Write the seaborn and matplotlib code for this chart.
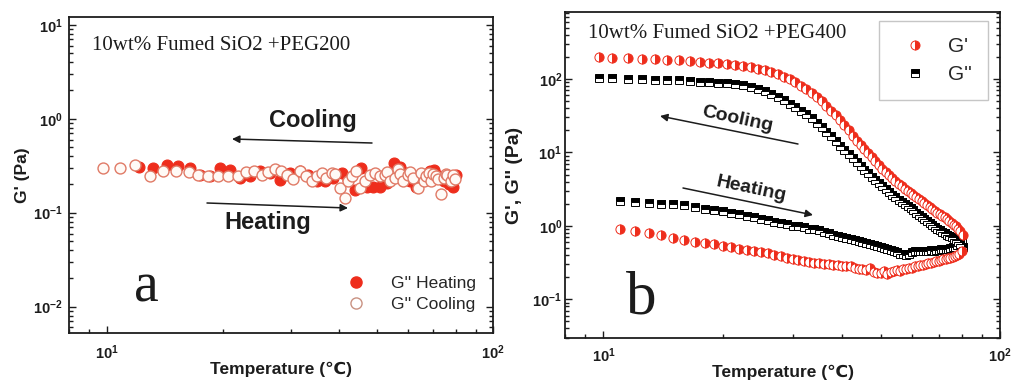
import numpy as np
import pandas as pd
import matplotlib
matplotlib.use("Agg")
import matplotlib.pyplot as plt
import seaborn as sns
from matplotlib.lines import Line2D
from matplotlib.ticker import LogLocator, FuncFormatter, NullFormatter

# ---------------- data ----------------
# (a) 10wt% fumed SiO2 + PEG200, G'' during heating / cooling
a_T_heat = [12.1, 13.2, 14.3, 15.3, 16.4, 17.4, 18.5, 19.6, 20.8, 22.1, 23.5, 24.9,
            26.4, 28.0, 29.8, 31.6, 33.2, 34.9, 36.7, 38.6, 40.5, 42.2, 43.9, 45.6,
            47.0, 48.9, 50.9, 53.0, 55.2, 57.5, 59.3, 61.0, 63.2, 65.8, 68.4, 70.4,
            72.5, 74.7, 76.8, 78.6, 79.3, 80.0]
a_G_heat = [0.31, 0.30, 0.32, 0.315, 0.30, 0.254, 0.244, 0.30, 0.287, 0.234, 0.244, 0.275,
            0.265, 0.224, 0.265, 0.275, 0.254, 0.215, 0.215, 0.234, 0.265, 0.224, 0.176, 0.30,
            0.19, 0.19, 0.19, 0.207, 0.337, 0.31, 0.265, 0.215, 0.19, 0.254, 0.275, 0.287,
            0.244, 0.215, 0.20, 0.19, 0.244, 0.254]
a_T_cool = [9.8, 10.8, 11.8, 12.95, 14.0, 15.1, 16.3, 17.2, 18.3, 19.4, 20.6, 21.8,
            22.9, 24.0, 25.2, 26.2, 27.3, 28.3, 29.3, 30.3, 31.6, 32.8, 33.9, 34.9,
            36.0, 37.0, 38.2, 39.0, 40.1, 41.4, 42.2, 43.1, 44.2, 45.2, 46.5, 47.9,
            49.4, 50.9, 52.4, 53.2, 54.0, 55.6, 56.7, 57.5, 58.4, 60.1, 61.0, 62.0,
            63.8, 65.1, 66.0, 67.0, 68.0, 69.0, 70.0, 71.1, 72.0, 73.2, 74.7, 75.5,
            76.1, 77.7, 78.8, 79.5]
a_G_cool = [0.30, 0.30, 0.32, 0.244, 0.275, 0.28, 0.27, 0.25, 0.244, 0.244, 0.244, 0.247,
            0.27, 0.28, 0.25, 0.27, 0.29, 0.275, 0.25, 0.23, 0.275, 0.244, 0.22, 0.244,
            0.265, 0.234, 0.265, 0.26, 0.183, 0.143, 0.215, 0.244, 0.275, 0.183, 0.22, 0.25,
            0.265, 0.244, 0.25, 0.27, 0.22, 0.234, 0.29, 0.26, 0.22, 0.25, 0.27, 0.234,
            0.183, 0.265, 0.22, 0.244, 0.265, 0.22, 0.26, 0.244, 0.23, 0.16, 0.234, 0.26,
            0.25, 0.22, 0.25, 0.23]

# (b) 10wt% fumed SiO2 + PEG400, heating branch then cooling branch
b_T_heat = [11, 12, 13, 14, 15, 16, 17, 18, 19, 20, 21, 22, 23, 24, 25, 26, 27, 28,
            29, 30, 31, 32, 33, 34, 35, 36, 37, 38, 39, 40, 41, 42, 43, 44, 45, 46,
            47, 48, 49, 50, 51, 52, 53, 54, 55, 56, 57, 58, 59, 60, 61, 62, 63, 64,
            65, 66, 67, 68, 69, 70, 71, 72, 73, 74, 75, 76, 77, 78, 79, 80]
b_Gp_heat = [0.90, 0.85, 0.79, 0.74, 0.69, 0.65, 0.61, 0.58, 0.56, 0.53, 0.51, 0.49,
             0.47, 0.455, 0.44, 0.425, 0.40, 0.385, 0.37, 0.355, 0.345, 0.335, 0.325, 0.315,
             0.31, 0.30, 0.30, 0.295, 0.29, 0.285, 0.285, 0.28, 0.27, 0.26, 0.255, 0.25,
             0.27, 0.235, 0.23, 0.225, 0.24, 0.22, 0.235, 0.245, 0.25, 0.24, 0.255, 0.26,
             0.265, 0.27, 0.28, 0.28, 0.29, 0.295, 0.30, 0.31, 0.315, 0.32, 0.33, 0.335,
             0.34, 0.35, 0.355, 0.36, 0.37, 0.38, 0.39, 0.40, 0.42, 0.45]
b_Gpp_heat = [2.15, 2.10, 2.05, 2.01, 1.98, 1.93, 1.82, 1.72, 1.64, 1.57, 1.50, 1.43,
              1.36, 1.30, 1.24, 1.19, 1.14, 1.09, 1.05, 1.01, 0.98, 0.95, 0.92, 0.90,
              0.87, 0.83, 0.79, 0.76, 0.73, 0.71, 0.68, 0.66, 0.64, 0.62, 0.60, 0.58,
              0.57, 0.55, 0.53, 0.52, 0.50, 0.48, 0.47, 0.45, 0.44, 0.42, 0.41, 0.40,
              0.42, 0.44, 0.45, 0.45, 0.46, 0.45, 0.46, 0.46, 0.47, 0.46, 0.47, 0.47,
              0.48, 0.48, 0.49, 0.49, 0.50, 0.51, 0.52, 0.55, 0.60, 0.66]
b_T_cool = [9.75, 10.5, 11.5, 12.5, 13.5, 14.5, 15.5, 16.5, 17.5, 18.5, 19.5, 20.5,
            21.5, 22.5, 23.5, 24.5, 25.5, 26.5, 27.5, 28.5, 29.5, 30.5, 31.5, 32.5,
            33.5, 34.5, 35.5, 36.5, 37.5, 38.5, 39.5, 40.5, 41.5, 42.5, 43.5, 44.5,
            45.5, 46.5, 47.5, 48.5, 49.5, 50.5, 51.5, 52.5, 53.5, 54.5, 55.5, 56.5,
            57.5, 58.5, 59.5, 60.5, 61.5, 62.5, 63.5, 64.5, 65.5, 66.5, 67.5, 68.5,
            69.5, 70.5, 71.5, 72.5, 73.5, 74.5, 75.5, 76.5, 77.5, 78.5, 79.5, 80.5]
b_Gp_cool = [197, 195, 192, 190, 187, 183, 179, 175, 171, 167, 163, 159,
             155, 150, 144, 138, 131, 124, 116, 107, 99, 90, 81, 73,
             65, 57, 50, 43, 37, 32, 27.5, 23.5, 20, 17, 14.5, 12.5,
             11, 9.8, 8.7, 7.7, 6.8, 6.0, 5.4, 4.9, 4.45, 4.05, 3.7, 3.45,
             3.2, 3.0, 2.8, 2.62, 2.46, 2.32, 2.18, 2.05, 1.93, 1.82, 1.71, 1.61,
             1.52, 1.44, 1.37, 1.30, 1.23, 1.16, 1.10, 1.04, 0.98, 0.92, 0.85, 0.76]
b_Gpp_cool = [103, 102, 100, 99, 98, 97, 96, 94, 92, 91, 89, 87,
              85, 82, 78, 74, 69, 63, 57, 51, 46, 41, 37, 33,
              29, 25.5, 22, 19, 16.5, 14.2, 12.4, 10.8, 9.4, 8.3, 7.3, 6.5,
              5.8, 5.2, 4.7, 4.2, 3.8, 3.45, 3.15, 2.9, 2.65, 2.45, 2.28, 2.12,
              1.98, 1.85, 1.73, 1.62, 1.51, 1.41, 1.32, 1.24, 1.16, 1.09, 1.02, 0.97,
              0.92, 0.87, 0.83, 0.79, 0.76, 0.73, 0.70, 0.67, 0.64, 0.60, 0.57, 0.52]

# ---------------- style ----------------
sns.set_theme(style="ticks")
plt.rcParams["font.family"] = ["Liberation Sans", "DejaVu Sans"]
plt.rcParams["mathtext.fontset"] = "custom"
plt.rcParams["mathtext.rm"] = "Liberation Sans"
plt.rcParams["mathtext.bf"] = "Liberation Sans:bold"

RED = "#ee2d1c"
OPEN_EDGE = "#e07a66"
INK = "#1c1c1c"
W, H = 1014, 381

fig = plt.figure(figsize=(W / 100, H / 100), dpi=100)
fig.patch.set_facecolor("white")


def fp(x, y):
    """pixel position (from top-left) -> figure fraction"""
    return (x / W, 1 - y / H)


axA = fig.add_axes([69.3 / W, 47.7 / H, 424 / W, 316.6 / H])
axB = fig.add_axes([565 / W, 42.7 / H, 435 / W, 326.6 / H])


def decade_fmt(v, pos):
    e = int(round(np.log10(v)))
    return r"$\mathbf{10^{%d}}$" % e


def style_axes(ax, ylo, yhi, ypad, xpad):
    ax.set_xscale("log")
    ax.set_yscale("log")
    ax.set_xlim(8, 100)
    ax.set_ylim(ylo, yhi)
    for a in (ax.xaxis, ax.yaxis):
        a.set_major_locator(LogLocator(base=10, numticks=20))
        a.set_minor_locator(LogLocator(base=10, subs=np.arange(2, 10), numticks=20))
        a.set_major_formatter(FuncFormatter(decade_fmt))
        a.set_minor_formatter(NullFormatter())
    ax.tick_params(which="both", direction="in", top=False, right=True,
                   color=INK, width=1.0, labelsize=10.5, labelcolor=INK)
    ax.tick_params(which="major", length=5)
    ax.tick_params(which="minor", length=3)
    ax.tick_params(axis="x", which="major", pad=xpad)
    ax.tick_params(axis="y", which="major", pad=ypad)
    for s in ax.spines.values():
        s.set_color(INK)
        s.set_linewidth(1.3)
    ax.set_facecolor("white")
    ax.grid(False)


# ---------------- panel a ----------------
sns.scatterplot(x=a_T_heat, y=a_G_heat, ax=axA, s=62, color=RED, edgecolor=RED,
                linewidth=0.8, zorder=3)
sns.scatterplot(x=a_T_cool, y=a_G_cool, ax=axA, s=62, color="#fffaf6",
                edgecolor=OPEN_EDGE, linewidth=1.0, zorder=4)
style_axes(axA, 0.0052, 12.2, 5, 7)
axA.set_xlabel("Temperature (℃)", fontsize=12.5, fontweight="bold", color=INK, labelpad=0)
axA.set_ylabel("G' (Pa)", fontsize=12.5, fontweight="bold", color=INK, labelpad=2)

legA = [Line2D([], [], linestyle="", marker="o", markersize=8, markerfacecolor=RED,
               markeredgecolor=RED, label="G'' Heating"),
        Line2D([], [], linestyle="", marker="o", markersize=8, markerfacecolor="white",
               markeredgecolor="#c99282", label="G'' Cooling")]
axA.legend(handles=legA, loc="lower right", bbox_to_anchor=(0.975, 0.045),
           frameon=False, fontsize=12.5, handletextpad=1.0, labelspacing=0.35,
           borderaxespad=0)

# ---------------- panel b ----------------
for T, G in ((b_T_heat, b_Gpp_heat), (b_T_cool, b_Gpp_cool)):
    sns.lineplot(x=T, y=G, ax=axB, sort=False, estimator=None, linestyle="",
                 marker="s", markersize=5.6, fillstyle="top", color="black",
                 markerfacecolor="black", markerfacecoloralt="white",
                 markeredgecolor="black", markeredgewidth=0.7, zorder=3)
for T, G in ((b_T_heat, b_Gp_heat), (b_T_cool, b_Gp_cool)):
    sns.lineplot(x=T, y=G, ax=axB, sort=False, estimator=None, linestyle="",
                 marker="o", markersize=6.6, fillstyle="right", color=RED,
                 markerfacecolor=RED, markerfacecoloralt="white",
                 markeredgecolor=RED, markeredgewidth=0.7, zorder=4)
style_axes(axB, 0.0294, 826, 2, 6)
axB.set_xlabel("Temperature (℃)", fontsize=12.5, fontweight="bold", color=INK, labelpad=0)
axB.set_ylabel("G', G'' (Pa)", fontsize=14, fontweight="bold", color=INK, labelpad=7)

legB = [Line2D([], [], linestyle="", marker="o", markersize=6.5, fillstyle="right",
               markerfacecolor=RED, markerfacecoloralt="white", markeredgecolor=RED,
               markeredgewidth=0.7, label="G'"),
        Line2D([], [], linestyle="", marker="s", markersize=6, fillstyle="top",
               markerfacecolor="black", markerfacecoloralt="white",
               markeredgecolor="black", markeredgewidth=0.7, label="G''")]
lg = axB.legend(handles=legB, loc="upper right", bbox_to_anchor=(0.972, 0.971),
                frameon=True, fancybox=False, fontsize=15, borderpad=0.75,
                handletextpad=0.6, labelspacing=0.45, borderaxespad=0)
lg.get_frame().set_edgecolor("#b8b8b8")
lg.get_frame().set_linewidth(1.0)

# ---------------- annotations ----------------
serif = ["Liberation Serif", "DejaVu Serif"]
fig.text(*fp(92, 46), "10wt% Fumed SiO2 +PEG200", family=serif, fontsize=15,
         color=INK, va="center", ha="left")
fig.text(*fp(588, 33), "10wt% Fumed SiO2 +PEG400", family=serif, fontsize=15,
         color=INK, va="center", ha="left")
fig.text(*fp(146, 302), "a", family=serif, fontsize=40, color=INK,
         va="baseline", ha="center")
fig.text(*fp(641, 314), "b", family=serif, fontsize=44, color=INK,
         va="baseline", ha="center")

arrow = dict(arrowstyle="-|>", color=INK, lw=1.1, mutation_scale=11,
             shrinkA=0, shrinkB=0)
fig.text(*fp(313, 120), "Cooling", fontsize=17, fontweight="bold", color=INK,
         ha="center", va="center")
fig.text(*fp(268, 223), "Heating", fontsize=17, fontweight="bold", color=INK,
         ha="center", va="center")
axA.annotate("", xy=fp(232, 139), xytext=fp(372, 143), xycoords="figure fraction",
             textcoords="figure fraction", arrowprops=arrow)
axA.annotate("", xy=fp(348, 208), xytext=fp(207, 203), xycoords="figure fraction",
             textcoords="figure fraction", arrowprops=arrow)

fig.text(*fp(737, 119), "Cooling", fontsize=14, fontweight="bold", color=INK,
         ha="center", va="center", rotation=-12, rotation_mode="anchor")
fig.text(*fp(751, 189), "Heating", fontsize=14, fontweight="bold", color=INK,
         ha="center", va="center", rotation=-12, rotation_mode="anchor")
axB.annotate("", xy=fp(660, 116), xytext=fp(798, 144), xycoords="figure fraction",
             textcoords="figure fraction", arrowprops=arrow)
axB.annotate("", xy=fp(813, 215), xytext=fp(683, 188), xycoords="figure fraction",
             textcoords="figure fraction", arrowprops=arrow)

fig.savefig("out.png", dpi=100, facecolor="white")
